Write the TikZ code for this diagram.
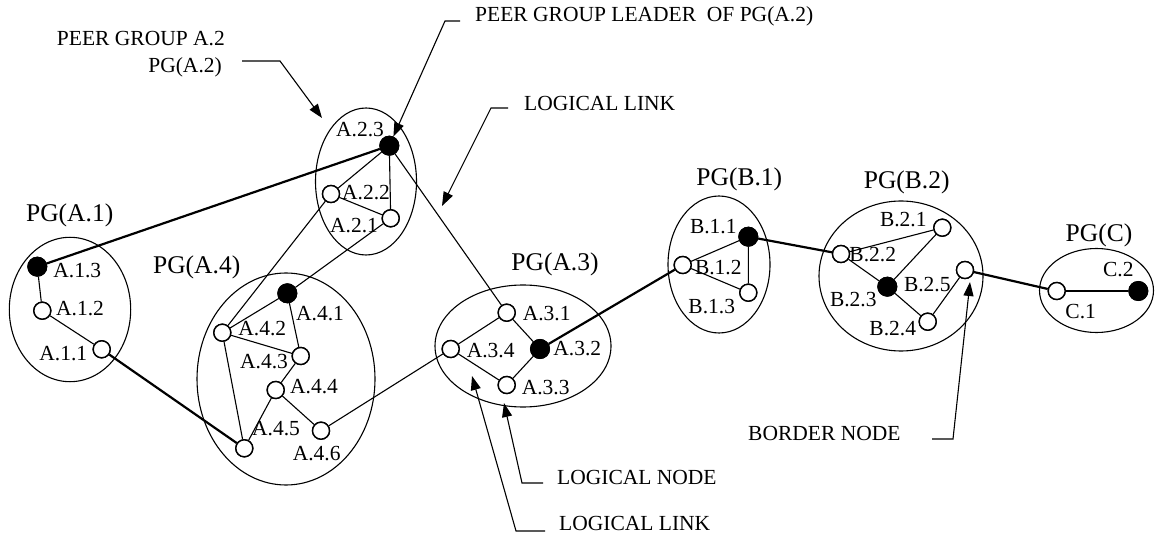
\documentclass[tikz,border=0pt]{standalone}
\usepackage{fontspec}
\setmainfont{Liberation Serif}
\usetikzlibrary{shapes.geometric,arrows.meta}
\begin{document}
\begin{tikzpicture}[x=1pt,y=-1pt,
 grp/.style={draw,ellipse,line width=1.1pt,inner sep=0pt},
 onode/.style={circle,draw,fill=white,line width=1.4pt,minimum size=17pt,inner sep=0pt},
 fnode/.style={circle,draw,fill=black,line width=1pt,minimum size=19pt,inner sep=0pt},
 lbl/.style={inner sep=0pt,font=\fontsize{21.5}{24}\selectfont},
 pglbl/.style={inner sep=0pt,font=\fontsize{25.5}{28}\selectfont},
 thinlink/.style={line width=1.1pt},
 thicklink/.style={line width=2.2pt},
 leaderline/.style={line width=1.1pt},
 ldarrow/.style={-{Triangle[length=14pt,width=10pt]}}
]
\useasboundingbox (0,0) rectangle (1156,534);

% peer groups
\node[grp,minimum width=121.4pt,minimum height=144.4pt] (gA1) at (70,309.5) {};
\node[grp,minimum width=101pt,minimum height=147pt] (gA2) at (366,181.5) {};
\node[grp,minimum width=178pt,minimum height=212pt] (gA4) at (286,379) {};
\node[grp,minimum width=176pt,minimum height=122pt] (gA3) at (523,346) {};
\node[grp,minimum width=102pt,minimum height=137pt] (gB1) at (719,264.5) {};
\node[grp,minimum width=164pt,minimum height=150pt] (gB2) at (901,276) {};
\node[grp,minimum width=114pt,minimum height=84pt] (gC) at (1096.5,290.5) {};

% logical nodes
\node[fnode] (a13) at (37.3,266.7) {};
\node[onode] (a12) at (42.3,310.7) {};
\node[onode] (a11) at (101.7,349.3) {};

\node[fnode] (a23) at (389.3,145.7) {};
\node[onode] (a22) at (331,194) {};
\node[onode] (a21) at (390.7,218.3) {};

\node[fnode] (a41) at (287.3,293.3) {};
\node[onode] (a42) at (222.3,332.7) {};
\node[onode] (a43) at (300.7,356) {};
\node[onode] (a44) at (275.7,390) {};
\node[onode] (a45) at (244.3,448.3) {};
\node[onode] (a46) at (321,430.7) {};

\node[onode] (a31) at (506.7,312.7) {};
\node[onode] (a34) at (450.7,349) {};
\node[fnode] (a32) at (540,349) {};
\node[onode] (a33) at (506.7,385) {};

\node[fnode] (b11) at (748.3,236.7) {};
\node[onode] (b12) at (682.7,265) {};
\node[onode] (b13) at (748.3,292.7) {};

\node[onode] (b21) at (942.3,227.7) {};
\node[onode] (b22) at (841,254) {};
\node[fnode] (b23) at (887.3,286.7) {};
\node[onode] (b25) at (965,270) {};
\node[onode] (b24) at (927.7,321.7) {};

\node[onode] (c1) at (1056.7,291) {};
\node[fnode] (c2) at (1138.3,291) {};

% links inside groups
\draw[thinlink] (a13) -- (a12) -- (a11);
\draw[thinlink] (a23) -- (a22) -- (a21) -- (a23);
\draw[thinlink] (a41) -- (a42) -- (a43) -- (a41);
\draw[thinlink] (a42) -- (a45) -- (a44) -- (a43);
\draw[thinlink] (a44) -- (a46);
\draw[thinlink] (a34) -- (a31) -- (a32) -- (a33) -- (a34);
\draw[thinlink] (b12) -- (b11) -- (b13) -- (b12);
\draw[thinlink] (b22) -- (b21) -- (b23) -- (b22);
\draw[thinlink] (b23) -- (b24) -- (b25);
\draw[thinlink] (c1) -- (c2);
% inter-group links
\draw[thicklink] (a13) -- (a23);
\draw[thicklink] (a11) -- (a45);
\draw[thinlink] (a42) -- (a22);
\draw[thinlink] (a41) -- (a21);
\draw[thinlink] (a23) -- (a31);
\draw[thinlink] (a46) -- (a34);
\draw[thicklink] (a32) -- (b12);
\draw[thicklink] (b11) -- (b22);
\draw[thicklink] (b25) -- (c1);

% redraw nodes on top
\foreach \n in {a12,a11,a22,a21,a42,a43,a44,a45,a46,a31,a34,a33,b12,b13,b21,b22,b25,b24,c1}
  \node[onode] at (\n) {};
\foreach \n in {a13,a23,a41,a32,b11,b23,c2}
  \node[fnode] at (\n) {};

% group labels
\node[pglbl] (lgA1) at (69.7,215) {PG(A.1)};
\node[pglbl] (lgA4) at (196.7,267) {PG(A.4)};
\node[pglbl] (lgA3) at (555,264) {PG(A.3)};
\node[pglbl] (lgB1) at (739.3,179) {PG(B.1)};
\node[pglbl] (lgB2) at (906.7,182) {PG(B.2)};
\node[pglbl] (lgC) at (1099,235.5) {PG(C)};

% node labels
\node[lbl] (la13) at (77.3,270.7) {A.1.3};
\node[lbl] (la12) at (80,308.3) {A.1.2};
\node[lbl] (la11) at (63.3,353.3) {A.1.1};
\node[lbl] (la23) at (360,130) {A.2.3};
\node[lbl] (la22) at (366,193) {A.2.2};
\node[lbl] (la21) at (354,225.7) {A.2.1};
\node[lbl] (la41) at (320,313.3) {A.4.1};
\node[lbl] (la42) at (262.3,328.3) {A.4.2};
\node[lbl] (la43) at (264,361.7) {A.4.3};
\node[lbl] (la44) at (314,386.7) {A.4.4};
\node[lbl] (la45) at (276,428.3) {A.4.5};
\node[lbl] (la46) at (316.7,453.3) {A.4.6};
\node[lbl] (la31) at (546.7,313.3) {A.3.1};
\node[lbl] (la34) at (490.7,351) {A.3.4};
\node[lbl] (la32) at (577.3,348.3) {A.3.2};
\node[lbl] (la33) at (545.7,387.3) {A.3.3};
\node[lbl] (lb11) at (713.3,226.7) {B.1.1};
\node[lbl] (lb12) at (718.3,267.3) {B.1.2};
\node[lbl] (lb13) at (711.7,306.7) {B.1.3};
\node[lbl] (lb21) at (903.3,219.3) {B.2.1};
\node[lbl] (lb22) at (872.7,255) {B.2.2};
\node[lbl] (lb25) at (927.3,285) {B.2.5};
\node[lbl] (lb23) at (853.3,300) {B.2.3};
\node[lbl] (lb24) at (892.7,328.3) {B.2.4};
\node[lbl] (lc2) at (1118.3,270) {C.2};
\node[lbl] (lc1) at (1080.7,311.7) {C.1};

% annotations
\node[lbl,anchor=east] (tPGa) at (225,39) {PEER GROUP A.2};
\node[lbl,anchor=east] (tPGb) at (222,67) {PG(A.2)};
\node[lbl,anchor=west] (tPGL) at (475,16) {PEER GROUP LEADER~~OF PG(A.2)};
\node[lbl,anchor=west] (tLL1) at (524,103) {LOGICAL LINK};
\node[lbl,anchor=west] (tBN) at (748,433) {BORDER NODE};
\node[lbl,anchor=west] (tLN) at (557,477) {LOGICAL NODE};
\node[lbl,anchor=west] (tLL2) at (559,523) {LOGICAL LINK};

\coordinate (p1a) at (242,61);
\coordinate (p1b) at (280,61);
\coordinate (p1c) at (322,118);
\coordinate (p2a) at (460,21);
\coordinate (p2b) at (445,21);
\coordinate (p3a) at (508,108);
\coordinate (p3b) at (491,108);
\coordinate (p3c) at (442,206);
\coordinate (p4a) at (932,439);
\coordinate (p4b) at (953,439);
\coordinate (p4c) at (970,282);
\coordinate (p5a) at (543,483);
\coordinate (p5b) at (522,483);
\coordinate (p5c) at (504,403);
\coordinate (p6a) at (545,531);
\coordinate (p6b) at (516,531);
\coordinate (p6c) at (472,376);

\draw[leaderline,ldarrow] (p1a) -- (p1b) -- (p1c);
\draw[leaderline,ldarrow] (p2a) -- (p2b) -- (a23);
\draw[leaderline,ldarrow] (p3a) -- (p3b) -- (p3c);
\draw[leaderline,ldarrow] (p4a) -- (p4b) -- (p4c);
\draw[leaderline,ldarrow] (p5a) -- (p5b) -- (p5c);
\draw[leaderline,ldarrow] (p6a) -- (p6b) -- (p6c);
\end{tikzpicture}
\end{document}
